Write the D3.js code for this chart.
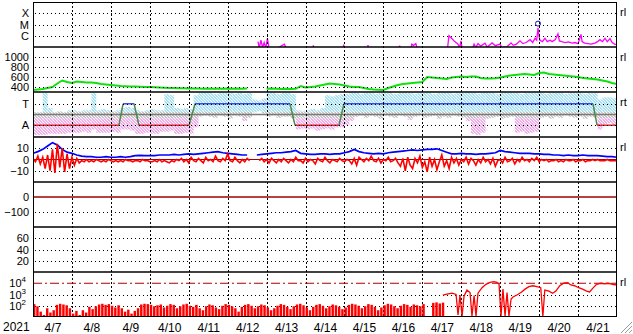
<!DOCTYPE html>
<html lang="en">
<head>
<meta charset="UTF-8">
<title>Space weather 2021</title>
<style type="text/css">
body { margin: 0; background: #fff; }
svg { display: block; font-family: "Liberation Sans", Arial, sans-serif; }
.lbl { font-size: 11px; fill: #000; }
.xl { font-size: 12px; fill: #000; }
.rt { font-size: 11px; fill: #000; }
.grid { stroke: #000; stroke-width: 1; stroke-dasharray: 1,3; fill: none; }
.vgrid { stroke: #000; stroke-width: 1; stroke-dasharray: 2,2; }
</style>
</head>
<body>
<script src="https://cdn.jsdelivr.net/npm/d3@7"></script>
<script>
// ---- data (hours since 2021-04-07 00:00 UT) ----
var dayLabels = ["4/7","4/8","4/9","4/10","4/11","4/12","4/13","4/14","4/15","4/16","4/17","4/18","4/19","4/20","4/21"]

// X-ray flux, W/m2  [hour, flux]
var xray = [[138.7,3e-7],[139.5,8e-8],[140.5,4e-7],[141.5,9e-8],[142.5,2.5e-7],[143.5,8e-8],[144.5,6e-7],[145.5,8e-8],
  [150,7e-8],[155,1.8e-7],[156,7e-8],[172.5,6e-8],[172.8,1.4e-7],[173.5,6e-8],[191,6e-8],[191.5,1.6e-7],[192,6e-8],
  [206,6e-8],[206.5,1.5e-7],[207,6e-8],[225.5,6e-8],[226,1.3e-7],[226.5,6e-8],[233,6e-8],[233.5,1.8e-7],[234.5,1.4e-7],
  [236,2e-7],[237,6e-8],[255.5,7e-8],[256.4,1e-6],[258,6e-7],[260,3e-7],[262,1.8e-7],[263,8e-8],[263.8,3.5e-7],
  [264.5,8e-8],[271,8e-8],[271.9,1.8e-7],[273,9e-8],[274.3,2e-7],[276,1.2e-7],[278.6,2.2e-7],[280,1e-7],[283,2.3e-7],
  [285,1.3e-7],[287.9,1.8e-7],[289,9e-8],[292,1e-7],[294.7,2.3e-7],[296,1.4e-7],[298,1.8e-7],[300.2,3.5e-7],[302,2e-7],
  [304,2.5e-7],[306.4,4.5e-7],[308,2.5e-7],[309.5,6e-7],[310.5,4e-7],[311.3,5e-6],[312,8e-7],[312.5,4e-7],[314,3e-7],
  [315.6,6e-7],[317,3e-7],[318.7,4e-7],[320,3e-7],[322,4.5e-7],[323.6,1.5e-6],[324.5,3.5e-7],[326,3e-7],[328,2.5e-7],
  [330,2.8e-7],[332.3,2.2e-7],[334,2.5e-7],[336,2e-7],[337.8,1.3e-6],[338.5,3e-7],[340,2.2e-7],[342.1,2e-7],[344,1.8e-7],
  [346.4,2.2e-7],[348,3e-7],[349.5,4.5e-7],[351,3e-7],[352.6,6e-7],[354,3e-7],[355.7,5.5e-7],[357,2.5e-7],[358.5,1.8e-7],[360,1.6e-7]]
var flareMarks = [[311.3,1.2e-5]]

// solar wind speed, km/s, every 3 h
var speedVals = [340,350,360,380,400,470,530,500,480,510, 500,490,490,480,460,450,440,430,420,415,
  410,410,405,400,400,395,390,385,380,380, 375,375,370,370,370,365,370,365,370,365,
  370,365,370,365,370,null,null,null,365,370, 365,360,365,360,365,420,390,400,410,430,
  450,470,460,450,430,410,400,400,380,360, 350,345,340,380,410,440,460,470,480,490,
  500,600,590,580,570,560,590,600,610,600, 610,610,580,570,570,575,590,610,630,640,
  650,660,650,640,680,690,660,650,640,630, 620,610,600,580,570,560,550,530,510,480, 460]

// sector: +1 toward, -1 away  [hour, state]
var sector = [[0,-1],[53,-1],[55.5,1],[62.3,1],[65.3,-1],[96.2,-1],[99.9,1],[158.4,1],[161.5,-1],
  [188.6,-1],[191.7,1],[345.2,1],[347.7,-1],[360,-1]]
// IMF direction spread per 3 h bin (upper / lower)
var taHi = [0.2,0.2,2.0,0.6,0.2,0.3,0.2,0.4,0.4,0.3, 0.4,0.4,2.0,0.4,0.5,0.4,0.3,0.4,0.6,0.7,
  0.6,0.4,0.3,0.4,0.5,0.4,0.4,1.9,1.8,0.6, 0.5,0.6,0.5,1.8,2.0,2.0,2.0,1.9,2.0,2.0,
  2.0,1.9,2.0,1.9,2.0,1.4,1.3,1.5,2.0,2.0, 1.9,2.0,2.0,1.9,0.4,0.3,0.4,0.5,0.4,0.6,
  1.8,1.7,1.8,1.9,1.9,2.0,2.0,1.9,2.0,2.0, 1.9,2.0,2.0,2.0,1.9,2.0,2.0,2.0,1.9,2.0,
  2.0,2.0,1.9,2.0,2.0,2.0,1.9,2.0,2.0,2.0, 2.0,1.9,2.0,2.0,2.0,1.9,2.0,2.0,2.0,2.0,
  1.9,2.0,2.0,2.0,2.0,1.9,2.0,2.0,2.0,1.9, 2.0,2.0,2.0,1.9,2.0,2.0,1.4,1.6,1.6,1.5]
var taLo = [-1.9,-1.9,-1.9,-1.8,-1.8,-1.8,-1.8,-1.7,-1.7,-1.7, -1.6,-1.7,-1.4,-1.7,-1.7,-1.7,-1.6,-1.7,-1.4,-1.4,
  -1.5,-1.8,-1.8,-1.7,-1.8,-1.8,-1.6,-1.6,-1.5,-1.8, -1.8,-1.7,-1.8,-1.2,-0.2,-0.1,-0.2,-0.3,-0.1,-0.2,
  -0.4,-0.1,-0.2,-0.6,-0.3,0.2,0.3,0.1,-0.2,-0.1, -0.3,-0.2,-0.2,-0.4,-1.4,-1.3,-1.4,-1.3,-1.5,-1.4,
  -1.3,-1.4,-1.2,-1.2,-1.0,-0.6,-0.2,-0.1,-0.3,-0.1, -0.2,-0.4,-0.1,-0.2,-0.3,-0.1,-0.2,-0.5,-0.2,-0.1,
  -0.3,-0.2,-0.1,-0.4,-0.2,-0.3,-0.1,-0.2,-0.3,-0.6, -1.8,-1.9,-1.7,-0.4,-0.3,-0.2,-0.4,-0.3,-0.2,-1.7,
  -1.6,-1.8,-1.7,-1.6,-0.3,-0.2,-0.4,-0.2,-0.3,-0.1, -0.2,-0.3,-0.2,-0.4,-0.2,-0.3,-1.4,-0.9,-0.8,-1.0]

// IMF Bt every 3 h, Bz every 1.5 h (nT)
var btVals = [5.5,7,9,12,15,13,9,6.5,5.5,4, 3,2.5,2.5,2,2,2.5,2,2,2.5,2,
  2.5,3.5,3.7,3.5,3.5,3.5,4,4,4,4.5, 4,4.5,5,4.5,5,5.5,6,6.5,7,6,
  5.5,5,4.5,4,4,null,4,4.5,5,5.5, 6,6,6.5,7,8,5.5,5,4.5,4.5,5,
  5,4.5,5,5,6,7,9,7,6,5.5, 5,5.5,5,6,6.5,7,7.5,8,8.5,8,
  8.5,9,9,9.5,8,6.5,5,5,5.5,5, 5,4.5,5,5,5.5,6,8,7,6.5,6,
  5.5,5.5,5.5,5,5,4.5,4.5,4,4,3.5, 4,3.5,3.5,4,3.5,3.5,3.5,3,2.5,2.5, 2]
var bzVals = [1,-2,3,-4,2,-8,4,-10,9,-12, 14,-7,10,-11,5,-8,2,-5,1,-3,
  -1,-2,0,-2,-1,-2,0,-1,-2,-1, -2,0,-1,-2,-1,-2,-1,-2,0,-1, -1,-2,-1,-1,-2,0,-1,-1,-2,-2,
  -1,-2,0,-2,-1,-2,-3,-1,-2,0, -1,
  1,-2,0,-3,2,-1,-2,1,-1,-3, 2,-1,0,-2,3,-1,-2,1,-1,5, -1,-2,2,-1,-3,0,-2,1,-1,
  null,null,null,
  -1,1,-2,0,-3,1,-1,-3,0,-2, 1,-1,-3,0,-2,2,-1,-1,-3,1, -2,0,-1,-4,1,-1,-2,2,-1,-3, 0,-1,-2,1,-1,-2,0,-1,
  -4,1,-5,2,0,-2,1,-1,3,-1, -2,1,-3,0,-1,2,-2,-1,1,-3,
  -6,1,-10,2,-5,-8,1,-3,3,-7, -2,-11,2,-6,0,-9,-2,4,-6,-1,
  -8,2,-3,1,-5,0,-2,2,-4,1, -1,-5,0,-3,2,-2,0,-4,1,-6, -1,0,-3,2,-2,-1,1,-4,0,-2,
  2,-1,0,-2,1,-1,2,-2,0,-1, 0,-2,-1,-1,0,-2,-1,-2,0,-1, -1,0,-2,-1,-1,0,-2,-1,-1,0,
  -1,0,-1,-1,-1,0,-1,-1,-1,-1]

// electron flux: 2 h peaks until 4/17, then [hour, flux]
var eBars = [140,90,30,15,60,25,40,120,150,130, 110,60,20,35,15,40,25,80,50,90,
  130,150,120,140,100,70,110,60,30,45, 20,35,60,130,150,140,120,90,110,130,
  70,100,140,120,60,90,130,150,100,80, 120,60,40,90,130,110,70,50,100,140,
  120,90,60,30,80,120,140,100,60,90, 130,110,70,40,60,100,140,120,80,50,
  90,130,150,110,70,40,80,120,140,100, 60,90,130,110,80,50,70,120,150,130,
  100,60,90,140,120,80,40,70,110,150, 130,90,60,100,140,120,80,130,110,90,
  140,10,10,180,200,160,190]
var eLine = [[252.7,900],[255.2,1100],[258.3,1300],[260.8,1000],[262,15],[263.2,900],[264.5,12],[265.7,700],
  [267.5,2450],[269.4,1500],[270.6,12],[271.9,800],[273.1,12],[274.3,1300],[276.8,4000],[279.2,8000],[281.7,12000],
  [284.2,14000],[286,12000],[287.3,8000],[288.5,12],[289.7,3000],[291,12],[292.2,1500],[293.4,12],[294.7,400],
  [295.9,600],[298.3,900],[300.8,1500],[303.3,3000],[305.7,5000],[308.2,6000],[310.6,5000],[313,4000],[314.3,11],
  [315.5,2500],[318,2000],[320.4,1300],[322.3,2000],[324.7,6000],[327.2,10000],[329.6,11000],[331.5,7000],
  [333.9,6000],[336.4,4000],[338.8,3000],[341.3,2000],[343.1,1700],[345,3500],[347.4,8000],[349.9,10000],
  [352.3,9000],[354.8,10000],[357.2,8000],[360,7000]]

// ---- layout ----
var W = 633, H = 334, L = 33, R = 617, T0 = 2, PH = 45
var t0 = Date.UTC(2021, 3, 7)
function hr(h) { return new Date(t0 + h * 3600e3) }

var x = d3.scaleUtc().domain([hr(0), hr(360)]).range([L, R])

var yX = d3.scaleLog().domain([1e-7, 1e-3]).range([T0 + PH, T0])
var ySw = d3.scaleLinear().domain([300, 1200]).range([T0 + 2 * PH, T0 + PH])
var ySec = d3.scaleLinear().domain([-2.1, 2.1]).range([T0 + 3 * PH, T0 + 2 * PH])
var yImf = d3.scaleLinear().domain([-20, 20]).range([T0 + 4 * PH, T0 + 3 * PH])
var yDst = d3.scaleLinear().domain([-200, 100]).range([T0 + 5 * PH, T0 + 4 * PH])
var yKp = d3.scaleLinear().domain([0, 80]).range([T0 + 6 * PH, T0 + 5 * PH])
var yE = d3.scaleLog().domain([10, 1e5]).range([T0 + 7 * PH, T0 + 6 * PH])

var svg = d3.select("body").append("svg").attr("width", W).attr("height", H)

var defs = svg.append("defs")
for (var p = 0; p < 7; p++) {
  defs.append("clipPath").attr("id", "clip" + p)
    .append("rect").attr("x", L).attr("y", T0 + p * PH).attr("width", R - L).attr("height", PH)
}
// speckle fills for the direction scatter
var speckle = {cy: "#a4e2f6", gy: "#c4c4c4", pk: "#f4aaee"}
Object.keys(speckle).forEach(function (k) {
  var pat = defs.append("pattern").attr("id", "sp-" + k)
    .attr("patternUnits", "userSpaceOnUse").attr("width", 3).attr("height", 3)
  ;[[0,0,2,1],[1,1,2,1],[0,2,1,1],[2,2,1,1]].forEach(function (r) {
    pat.append("rect").attr("x", r[0]).attr("y", r[1]).attr("width", r[2]).attr("height", r[3]).attr("fill", speckle[k])
  })
})
function panel(i) { return svg.append("g").attr("clip-path", "url(#clip" + i + ")") }

// horizontal dotted grid
function hgrid(scale, vals) {
  svg.append("g").selectAll("line").data(vals).enter().append("line")
    .attr("class", "grid")
    .attr("x1", L + 2).attr("x2", R)
    .attr("y1", function (d) { return Math.round(scale(d)) + 0.5 })
    .attr("y2", function (d) { return Math.round(scale(d)) + 0.5 })
}

// ---- X-ray ----
var gX = panel(0)
gX.append("path").datum(xray)
  .attr("fill", "none").attr("stroke", "#ff00ff").attr("stroke-width", 1.3)
  .attr("d", d3.line().x(function (d) { return x(hr(d[0])) }).y(function (d) { return yX(d[1]) }))
gX.selectAll("circle").data(flareMarks).enter().append("circle")
  .attr("cx", function (d) { return x(hr(d[0])) }).attr("cy", function (d) { return yX(d[1]) })
  .attr("r", 2.5).attr("fill", "none").attr("stroke", "#1010c0").attr("stroke-width", 1)

// ---- solar wind ----
panel(1).append("path").datum(speedVals)
  .attr("fill", "none").attr("stroke", "#11e011").attr("stroke-width", 2)
  .attr("d", d3.line().defined(function (d) { return d != null })
    .x(function (d, i) { return x(hr(i * 3)) }).y(function (d) { return ySw(d) }))

// ---- sector ----
var gS = panel(2)
var binW = x(hr(3)) - x(hr(0))
taHi.forEach(function (hi, i) {
  var lo = taLo[i], bx = x(hr(i * 3))
  var parts = [[Math.max(lo, 0.25), hi, "cy"], [Math.max(lo, -0.35), Math.min(hi, 0.25), "gy"], [lo, Math.min(hi, -0.35), "pk"]]
  parts.forEach(function (p) {
    if (p[1] <= p[0]) return
    gS.append("rect").attr("x", bx).attr("width", binW)
      .attr("y", ySec(p[1])).attr("height", ySec(p[0]) - ySec(p[1]))
      .attr("fill", "url(#sp-" + p[2] + ")")
  })
})
gS.append("line").attr("x1", L).attr("x2", R)
  .attr("y1", ySec(0)).attr("y2", ySec(0)).attr("stroke", "#7a7a7a").attr("stroke-width", 1.5)

hgrid(yX, [1e-4, 1e-5, 1e-6])
hgrid(ySw, [400, 600, 800, 1000])
hgrid(ySec, [1, -1])
hgrid(yImf, [10, -10])
hgrid(yDst, [-100])
hgrid(yKp, [20, 40, 60])
hgrid(yE, [1e3, 1e2])

// vertical day lines
var midnights = d3.range(1, 15).map(function (d) { return hr(d * 24) })
svg.append("g").selectAll("line").data(midnights).enter().append("line")
  .attr("class", "vgrid")
  .attr("x1", function (d) { return Math.round(x(d)) + 0.5 })
  .attr("x2", function (d) { return Math.round(x(d)) + 0.5 })
  .attr("y1", T0).attr("y2", T0 + 7 * PH)

d3.pairs(sector).forEach(function (p) {
  var a = p[0], b = p[1]
  var col = a[1] !== b[1] ? "#4a8a4a" : (a[1] > 0 ? "#3a4ae8" : "#e02828")
  gS.append("line")
    .attr("x1", x(hr(a[0]))).attr("y1", ySec(a[1]))
    .attr("x2", x(hr(b[0]))).attr("y2", ySec(b[1]))
    .attr("stroke", col).attr("stroke-width", 1.5)
})

// ---- IMF ----
var gI = panel(3)
gI.append("line").attr("x1", L).attr("x2", R)
  .attr("y1", yImf(0)).attr("y2", yImf(0)).attr("stroke", "#a00000").attr("stroke-width", 1)
gI.append("path").datum(btVals)
  .attr("fill", "none").attr("stroke", "#0000ff").attr("stroke-width", 1.7)
  .attr("d", d3.line().defined(function (d) { return d != null })
    .x(function (d, i) { return x(hr(i * 3)) }).y(function (d) { return yImf(d) }))
gI.append("path").datum(bzVals)
  .attr("fill", "none").attr("stroke", "#ff0000").attr("stroke-width", 1.6)
  .attr("d", d3.line().defined(function (d) { return d != null })
    .x(function (d, i) { return x(hr(i * 1.5)) }).y(function (d) { return yImf(d) }))

// ---- Dst ----
panel(4).append("line").attr("x1", L).attr("x2", R)
  .attr("y1", yDst(0)).attr("y2", yDst(0)).attr("stroke", "#a00000").attr("stroke-width", 1.5)

// ---- electron flux ----
var gE = panel(6)
gE.append("line").attr("x1", L).attr("x2", R)
  .attr("y1", yE(1e4)).attr("y2", yE(1e4))
  .attr("stroke", "#b00000").attr("stroke-width", 1.2).attr("stroke-dasharray", "9,3,2,3")
var eW = x(hr(2)) - x(hr(0))
gE.selectAll("rect.bar").data(eBars).enter().append("rect")
  .attr("class", "bar")
  .attr("x", function (d, i) { return x(hr(i * 2)) })
  .attr("width", eW * 0.75)
  .attr("y", function (d) { return yE(d) })
  .attr("height", function (d) { return yE.range()[0] - yE(d) })
  .attr("fill", "#ff0000")
gE.append("path").datum(eLine)
  .attr("fill", "none").attr("stroke", "#ff0000").attr("stroke-width", 1.3)
  .attr("d", d3.line().x(function (d) { return x(hr(d[0])) }).y(function (d) { return yE(d[1]) }))

// ---- frame ----
for (var k = 1; k < 7; k++) {
  svg.append("line").attr("x1", L).attr("x2", R)
    .attr("y1", T0 + k * PH).attr("y2", T0 + k * PH)
    .attr("stroke", "#000").attr("stroke-width", 1.5)
}
svg.append("rect").attr("x", L + 0.5).attr("y", T0 + 0.5)
  .attr("width", R - L - 1).attr("height", 7 * PH - 1)
  .attr("fill", "none").attr("stroke", "#000").attr("stroke-width", 1)

// ---- left labels ----
function leftAxis(scale, vals, fmt) {
  var g = svg.append("g").attr("transform", "translate(" + L + ",0)")
    .call(d3.axisLeft(scale).tickValues(vals).tickFormat(fmt).tickSize(0).tickPadding(4))
  g.select(".domain").remove()
  g.attr("font-family", null).attr("font-size", null)
  g.selectAll("text").attr("class", "lbl")
  return g
}
leftAxis(yX, [1e-4, 1e-5, 1e-6], function (d) { return d === 1e-4 ? "X" : d === 1e-5 ? "M" : "C" })
leftAxis(ySw, [400, 600, 800, 1000], d3.format("d"))
leftAxis(ySec, [1, -1], function (d) { return d > 0 ? "T" : "A" })
leftAxis(yImf, [10, 0, -10], d3.format("d"))
leftAxis(yDst, [0, -100], d3.format("d"))
leftAxis(yKp, [20, 40, 60], d3.format("d"))
var gEl = leftAxis(yE, [1e4, 1e3, 1e2], function () { return "" })
gEl.selectAll("text").each(function (d) {
  var t = d3.select(this)
  t.attr("dx", "-3px")
  t.append("tspan").text("10")
  t.append("tspan").attr("font-size", "8px").attr("dy", "-5").text(Math.round(Math.log10(d)))
})

// right tags
var tags = [["rl", T0 + 10], ["rl", T0 + PH + 10], ["rt", T0 + 2 * PH + 10], ["rl", T0 + 3 * PH + 10], ["rl", T0 + 6 * PH + 10]]
svg.selectAll("text.rt").data(tags).enter().append("text")
  .attr("class", "rt").attr("x", R + 3).attr("y", function (d) { return d[1] + 4 })
  .text(function (d) { return d[0] })

// ---- x axis ----
var noons = d3.range(15).map(function (d) { return hr(d * 24 + 12) })
var gx = svg.append("g").attr("transform", "translate(0," + (T0 + 7 * PH) + ")")
  .call(d3.axisBottom(x).tickValues(noons).tickFormat(function (d, i) { return dayLabels[i] }).tickSize(0).tickPadding(6))
gx.select(".domain").remove()
gx.attr("font-family", null).attr("font-size", null)
gx.selectAll("text").attr("class", "xl")
svg.append("text").attr("class", "xl").attr("x", 3).attr("y", 331).text("2021")

// resize grip
svg.append("g").selectAll("line").data([0, 4, 8]).enter().append("line")
  .attr("x1", function (d) { return 621 + d }).attr("y1", 333)
  .attr("x2", 632).attr("y2", function (d) { return 322 + d })
  .attr("stroke", "#999").attr("stroke-width", 1)
</script>
</body>
</html>
